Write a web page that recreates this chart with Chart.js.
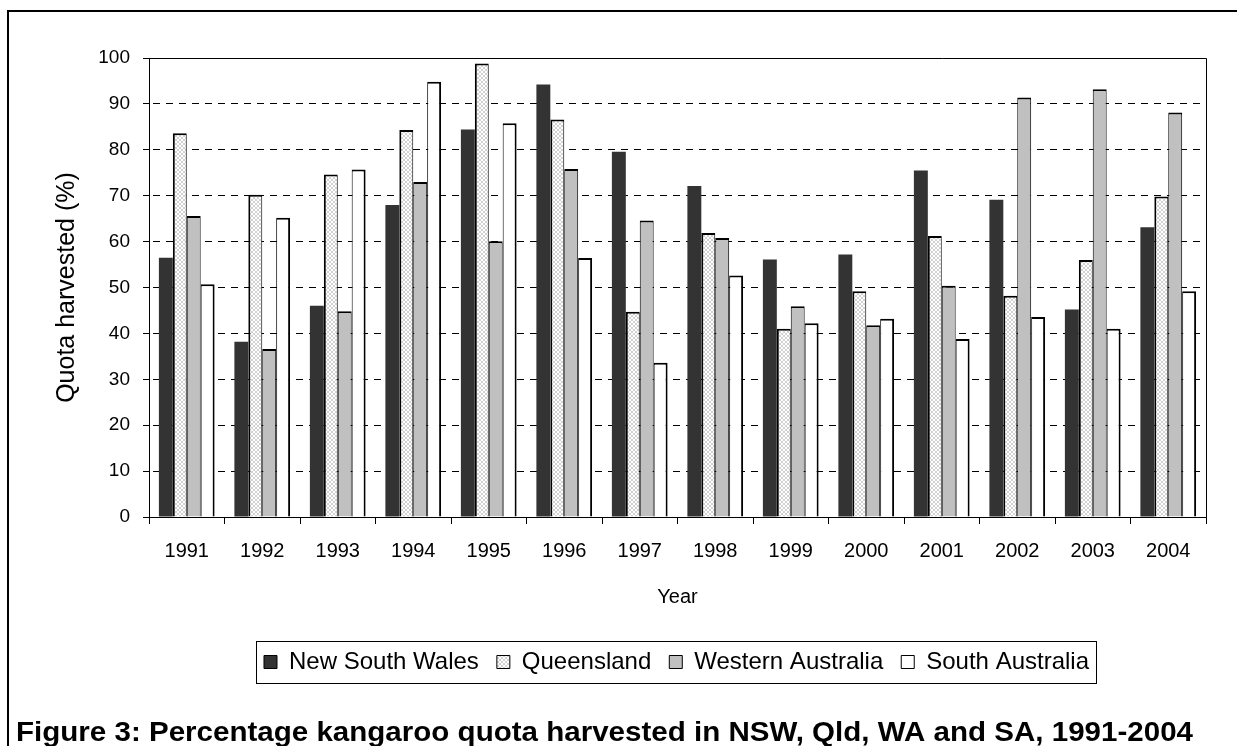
<!DOCTYPE html>
<html>
<head>
<meta charset="utf-8">
<script src="https://cdn.jsdelivr.net/npm/chart.js@4.4.0/dist/chart.umd.min.js"></script>
<style>
  html, body { margin: 0; padding: 0; background: #ffffff; }
  #wrap { position: relative; width: 1237px; height: 746px; }
  canvas { display: block; }
</style>
</head>
<body>
<div id="wrap"><canvas id="c" width="1237" height="746"></canvas></div>
<script>
// ---- data ----
const years = ['1991','1992','1993','1994','1995','1996','1997','1998','1999','2000','2001','2002','2003','2004'];
const newSouthWales    = [56.5, 38.2, 46.0, 68.0, 84.4, 94.2, 79.6, 72.1, 56.1, 57.2, 75.5, 69.1, 45.2, 63.1];
const queensland       = [83.6, 70.2, 74.6, 84.3, 98.8, 86.6, 44.7, 61.9, 41.0, 49.2, 61.2, 48.2, 56.0, 69.8];
const westernAustralia = [65.6, 36.6, 44.8, 73.0, 60.1, 75.8, 64.6, 60.8, 45.9, 41.8, 50.4, 91.4, 93.2, 88.1];
const southAustralia   = [50.7, 65.2, 75.7, 94.8, 85.8, 56.4, 33.6, 52.6, 42.2, 43.2, 38.8, 43.6, 41.0, 49.2];
const yTickValues = [0, 10, 20, 30, 40, 50, 60, 70, 80, 90, 100];
const seriesNames = ['New South Wales', 'Queensland', 'Western Australia', 'South Australia'];
const chartTitle = 'Figure 3: Percentage kangaroo quota harvested in NSW, Qld, WA and SA, 1991-2004';

const FONT = "'Liberation Sans', Arial, sans-serif";

function makeHatch() {
  const tile = document.createElement('canvas');
  tile.width = 4; tile.height = 4;
  const g = tile.getContext('2d');
  g.fillStyle = '#ffffff'; g.fillRect(0, 0, 4, 4);
  g.fillStyle = '#d2d2d2';
  for (let i = 0; i < 4; i++) { g.fillRect(i, i, 1, 1); g.fillRect(3 - i, i, 1, 1); }
  return document.createElement('canvas').getContext('2d').createPattern(tile, 'repeat');
}
const hatch = makeHatch();

const decorPlugin = {
  id: 'decor',
  beforeDraw(chart) {
    const ctx = chart.ctx;
    ctx.save();
    ctx.fillStyle = '#ffffff';
    ctx.fillRect(0, 0, chart.width, chart.height);
    ctx.fillStyle = '#000000';
    ctx.fillRect(7, 10, 2, chart.height - 10);
    ctx.fillRect(7, 10, chart.width - 7, 2);
    ctx.restore();
  },
  afterLayout(chart) {
    const lg = chart.legend;
    if (lg) {
      const delta = 676.5 - (lg.left + lg.right) / 2;
      lg.left += delta; lg.right += delta;
    }
  },
  afterDraw(chart) {
    const ctx = chart.ctx;
    const a = chart.chartArea;
    ctx.save();
    ctx.strokeStyle = '#000000';
    ctx.lineWidth = 1;
    ctx.beginPath();
    ctx.moveTo(Math.round(a.left) + 0.5, Math.round(a.top) + 0.5);
    ctx.lineTo(Math.round(a.right) + 0.5, Math.round(a.top) + 0.5);
    ctx.lineTo(Math.round(a.right) + 0.5, Math.round(a.bottom) + 0.5);
    ctx.stroke();
    // legend frame
    const hb = chart.legend.legendHitBoxes;
    if (hb && hb.length) {
      const l = Math.min(...hb.map(h => h.left)) - 8;
      const r = Math.max(...hb.map(h => h.left + h.width)) + 7;
      const cy = hb[0].top + hb[0].height / 2;
      ctx.strokeRect(Math.round(l) + 0.5, Math.round(cy - 21) + 0.5, Math.round(r - l), 42);
    }
    // figure caption
    ctx.font = 'bold 28px ' + FONT;
    ctx.fillStyle = '#000000';
    ctx.textBaseline = 'alphabetic';
    const w = ctx.measureText(chartTitle).width;
    ctx.translate(16, 741);
    ctx.scale(1177 / w, 1);
    ctx.fillText(chartTitle, 0, 0);
    ctx.restore();
  }
};

new Chart(document.getElementById('c'), {
  type: 'bar',
  data: {
    labels: years,
    datasets: [
      { label: seriesNames[0], data: newSouthWales, backgroundColor: '#333333', borderColor: '#333333', borderWidth: 0 },
      { label: seriesNames[1], data: queensland, backgroundColor: hatch, borderColor: '#000000', borderWidth: { left: 2, right: 1, top: 2, bottom: 0 } },
      { label: seriesNames[2], data: westernAustralia, backgroundColor: '#c0c0c0', borderColor: '#000000', borderWidth: { left: 1, right: 1, top: 2, bottom: 0 } },
      { label: seriesNames[3], data: southAustralia, backgroundColor: '#ffffff', borderColor: '#000000', borderWidth: { left: 1, right: 2, top: 2, bottom: 0 } }
    ]
  },
  options: {
    responsive: false,
    animation: false,
    devicePixelRatio: 1,
    layout: { padding: { left: 0, right: 31, top: 58, bottom: 62 } },
    datasets: { bar: { categoryPercentage: 0.738, barPercentage: 1.0 } },
    plugins: {
      legend: {
        position: 'bottom',
        labels: {
          boxWidth: 13, boxHeight: 13, padding: 18, color: '#000000',
          font: { family: FONT, size: 24 },
          generateLabels(chart) {
            const items = Chart.defaults.plugins.legend.labels.generateLabels(chart);
            items.forEach(it => { it.lineWidth = 1; it.strokeStyle = '#000000'; });
            return items;
          }
        }
      },
      tooltip: { enabled: false },
      title: { display: false }
    },
    scales: {
      x: {
        ticks: { color: '#000000', font: { family: FONT, size: 20 }, padding: 15, maxRotation: 0, autoSkip: false },
        grid: { offset: true, drawOnChartArea: false, drawTicks: true, tickLength: 7, color: '#000000', tickColor: '#000000', tickWidth: 1 },
        border: { display: true, color: '#000000', width: 1 },
        title: { display: true, text: 'Year', color: '#000000', font: { family: FONT, size: 20 }, padding: { top: 0, bottom: 23 } },
        afterFit(scale) { scale.height = 115; }
      },
      y: {
        min: 0, max: 100,
        afterBuildTicks(scale) { scale.ticks = yTickValues.map(v => ({ value: v })); },
        ticks: { color: '#000000', font: { family: FONT, size: 19 }, padding: 13 },
        grid: { color: '#000000', lineWidth: 1, drawTicks: true, tickLength: 6, tickColor: '#000000', tickWidth: 1, tickBorderDash: [] },
        border: { display: true, color: '#000000', width: 1, dash: [7, 6], dashOffset: -3 },
        title: { display: true, text: 'Quota harvested (%)', color: '#000000', font: { family: FONT, size: 25 }, padding: { top: 52, bottom: 0 } },
        afterFit(scale) { scale.width = 149; }
      }
    }
  },
  plugins: [decorPlugin]
});
</script>
</body>
</html>
